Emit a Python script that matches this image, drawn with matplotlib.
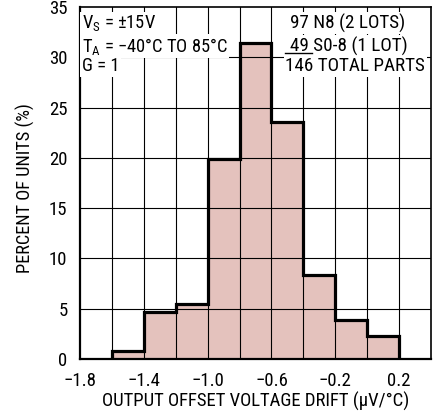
import matplotlib
matplotlib.use("Agg")
import matplotlib.pyplot as plt
import numpy as np

plt.rcParams['font.family'] = ['Roboto Condensed', 'DejaVu Sans']

bin_edges = [-1.6, -1.4, -1.2, -1.0, -0.8, -0.6, -0.4, -0.2, 0.0, 0.2]
percent = [0.8, 4.7, 5.5, 19.9, 31.4, 23.6, 8.4, 3.9, 2.3]
xticks = [-1.8, -1.4, -1.0, -0.6, -0.2, 0.2]
xticklabels = ['\u22121.8', '\u22121.4', '\u22121.0', '\u22120.6', '\u22120.2', '0.2']
yticks = [0, 5, 10, 15, 20, 25, 30, 35]

fig = plt.figure(figsize=(4.37, 4.19), dpi=100)
ax = fig.add_axes([80/437, 1-359/419, 351/437, 352/419])
ax.set_xlim(-1.8, 0.4)
ax.set_ylim(0, 35)

ax.hist(bin_edges[:-1], bins=bin_edges, weights=percent, color='#e4c2bd',
        edgecolor='none', zorder=1)
ax.stairs(percent, bin_edges, color='black', lw=2.3, zorder=4)

for x in np.arange(-1.6, 0.39, 0.2):
    ax.axvline(x, color='black', lw=0.8, zorder=2)
for y in range(5, 35, 5):
    ax.axhline(y, color='black', lw=0.8, zorder=2)

ax.set_xticks(xticks)
ax.set_xticklabels(xticklabels)
ax.set_yticks(yticks)
ax.tick_params(length=0, labelsize=13.5)
ax.tick_params(axis='x', pad=9.5)
ax.tick_params(axis='y', pad=9)
for s in ['left', 'bottom']:
    ax.spines[s].set_linewidth(1.6)
for s in ['right', 'top']:
    ax.spines[s].set_linewidth(1.2)

ax.set_xlabel('OUTPUT OFFSET VOLTAGE DRIFT (\u03bcV/\u00b0C)', fontsize=13.5, labelpad=1)
fig.text(25/437, 1-188/419, 'PERCENT OF UNITS (%)', fontsize=13.2, rotation=90,
         ha='center', va='center')

bb = dict(facecolor='white', edgecolor='none', pad=1.0)
fs = 13.8
fsl = 13.3
ax.text(-1.789, 33.38, '$\\mathregular{V_S}$ = \u00b115V', fontsize=fsl, va='center', ha='left', bbox=bb, zorder=3)
ax.text(-1.789, 31.12, '$\\mathregular{T_A}$ = \u221240\u00b0C TO 85\u00b0C', fontsize=fsl, va='center', ha='left', bbox=bb, zorder=3)
ax.text(-1.789, 29.09, 'G = 1', fontsize=fsl, va='center', ha='left', bbox=bb, zorder=3)
ax.text(-0.483, 33.38, '97 N8 (2 LOTS)', fontsize=fs, va='center', ha='left', bbox=bb, zorder=3)
ax.text(-0.483, 31.12, '49 S0-8 (1 LOT)', fontsize=fs, va='center', ha='left', bbox=bb, zorder=3)
ax.text(-0.5125, 29.09, '146 TOTAL PARTS', fontsize=fs, va='center', ha='left', bbox=bb, zorder=3)
ax.plot([-0.5125, -0.344], [30.4, 30.4], color='black', lw=1, zorder=5)

fig.savefig('out.png', dpi=100)
